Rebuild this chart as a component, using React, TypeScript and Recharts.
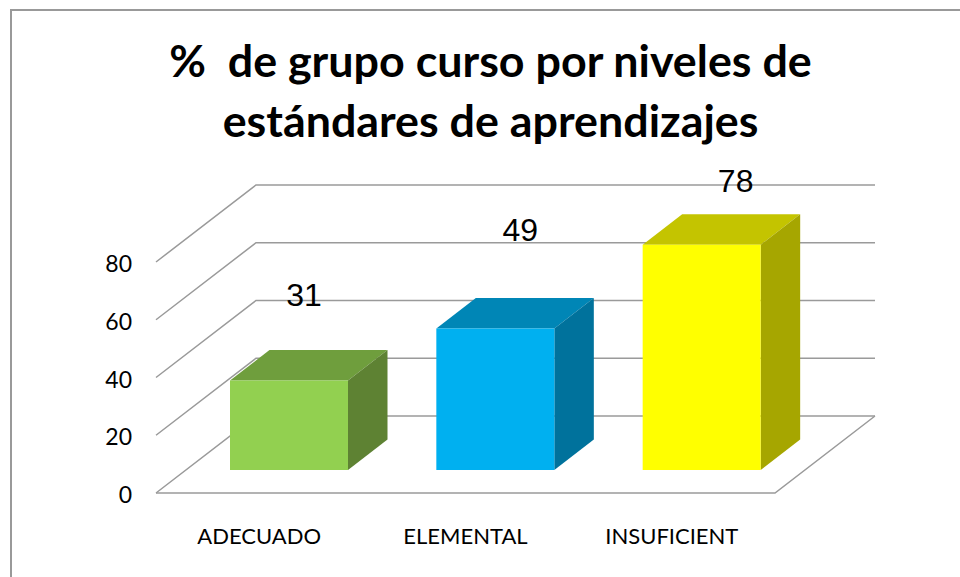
import React from "react";
import { BarChart, Bar, XAxis, YAxis, CartesianGrid, LabelList } from "recharts";

const categories = ["ADECUADO", "ELEMENTAL", "INSUFICIENT"];
const values = [31, 49, 78];
const yTicks = [0, 20, 40, 60, 80];
const titleLines = ["%  de grupo curso por niveles de", "estándares de aprendizajes"];
const frontColors = ["#92D050", "#00B0F0", "#FFFF00"];
const topColors = ["#6F9E3D", "#0086B6", "#C4C400"];
const sideColors = ["#5E8233", "#00729C", "#A6A600"];

const labelDx = [15, 25, 34];
const labelDy = [-85, -99, -64];

const rows = categories.map((name, i) => ({ name, value: values[i] }));

const GRID = "#9A9A9A";
const WALL_DX = 100;
const WALL_DY = 77;
const BAR_DX = 30;
const BAR_DY = 23;
const SIDE_DX = 39.5;
const SIDE_DY = 30.5;

function gridLine(p: any) {
  const { x1, x2, y1, index, y, height } = p;
  const floor = Math.abs(y1 - (y + height)) < 0.5;
  return (
    <g key={`g${index}`} fill="none" stroke={GRID} strokeWidth={1.5}>
      <path d={`M${x1},${y1}L${x1 + WALL_DX},${y1 - WALL_DY}L${x2 + WALL_DX},${y1 - WALL_DY}`} />
      {floor && <path d={`M${x1},${y1}L${x2},${y1}L${x2 + WALL_DX},${y1 - WALL_DY}`} />}
    </g>
  );
}

function Bar3D(p: any) {
  const { x, y, width, height, index } = p;
  const l = x + BAR_DX;
  const r = l + width;
  const t = y - BAR_DY;
  const b = t + height;
  return (
    <g>
      <path d={`M${l},${t}L${l + SIDE_DX},${t - SIDE_DY}L${r + SIDE_DX},${t - SIDE_DY}L${r},${t}Z`} fill={topColors[index]} />
      <path d={`M${r},${t}L${r + SIDE_DX},${t - SIDE_DY}L${r + SIDE_DX},${b - SIDE_DY}L${r},${b}Z`} fill={sideColors[index]} />
      <rect x={l} y={t} width={width} height={height} fill={frontColors[index]} />
    </g>
  );
}

function DataLabel(p: any) {
  const { x, y, width, index, value } = p;
  return (
    <text
      x={x + width / 2 + BAR_DX + labelDx[index]}
      y={y + BAR_DY * -1 + labelDy[index]}
      textAnchor="middle"
      dominantBaseline="central"
      fontFamily="'Liberation Sans'"
      fontSize={32}
      fill="#000"
    >
      {value}
    </text>
  );
}

export default function App() {
  return (
    <div style={{ position: "absolute", left: 0, top: 0, width: 960, height: 577, background: "#fff", overflow: "hidden" }}>
      <div style={{ position: "absolute", left: 10, top: 9, width: 950, height: 568, borderLeft: "2px solid #999", borderTop: "2px solid #999", boxSizing: "border-box" }} />
      {titleLines.map((line, i) => (
        <div
          key={i}
          style={{
            position: "absolute",
            left: 0,
            width: 981,
            top: 30 + i * 60,
            textAlign: "center",
            font: "bold 44.8px/60px Lato",
            color: "#000",
            whiteSpace: "pre",
          }}
        >
          {line}
        </div>
      ))}
      <div style={{ position: "absolute", left: 0, top: 0 }}>
        <BarChart width={960} height={577} data={rows} margin={{ top: 262, right: 185, bottom: 0, left: 0 }} barSize={118}>
          <CartesianGrid vertical={false} horizontal={gridLine} />
          <XAxis
            dataKey="name"
            axisLine={false}
            tickLine={false}
            height={84}
            interval={0}
            tickMargin={29}
            tick={{ fontFamily: "Lato", fontSize: 22, fill: "#000" }}
          />
          <YAxis
            type="number"
            domain={[0, 80]}
            ticks={yTicks}
            width={156}
            axisLine={false}
            tickLine={false}
            tickMargin={18}
            tick={{ fontFamily: "Lato", fontSize: 23, fill: "#000", dy: 2 }}
          />
          <Bar dataKey="value" shape={Bar3D} isAnimationActive={false}>
            <LabelList dataKey="value" content={DataLabel} />
          </Bar>
        </BarChart>
      </div>
    </div>
  );
}
